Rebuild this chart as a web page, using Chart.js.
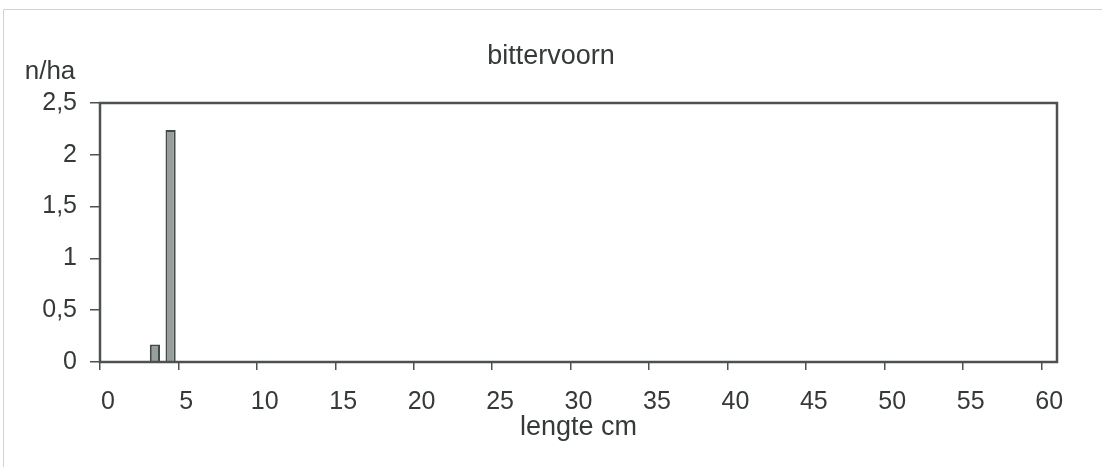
<!DOCTYPE html>
<html>
<head>
<meta charset="utf-8">
<title>bittervoorn</title>
<script src="https://cdn.jsdelivr.net/npm/chart.js@4/dist/chart.umd.min.js"></script>
<style>
  html, body { margin: 0; padding: 0; background: #fff; }
  canvas { display: block; }
</style>
</head>
<body>
<canvas id="grafiek" width="1102" height="467"></canvas>
<script>
// lengteklassen (cm) en aantallen per hectare
const lengtes = [0, 1, 2, 3, 4, 5, 6, 7, 8, 9, 10, 11, 12, 13, 14, 15, 16, 17, 18, 19, 20,
  21, 22, 23, 24, 25, 26, 27, 28, 29, 30, 31, 32, 33, 34, 35, 36, 37, 38, 39, 40,
  41, 42, 43, 44, 45, 46, 47, 48, 49, 50, 51, 52, 53, 54, 55, 56, 57, 58, 59, 60];
const aantalPerHa = [0, 0, 0, 0.17, 2.24, 0, 0, 0, 0, 0, 0, 0, 0, 0, 0, 0, 0, 0, 0, 0, 0,
  0, 0, 0, 0, 0, 0, 0, 0, 0, 0, 0, 0, 0, 0, 0, 0, 0, 0, 0, 0,
  0, 0, 0, 0, 0, 0, 0, 0, 0, 0, 0, 0, 0, 0, 0, 0, 0, 0, 0, 0];
const yTicks = [0, 0.5, 1, 1.5, 2, 2.5];

const tekst = '#353a39';
const lijn = '#4d5251';
const family = '"Liberation Sans", Arial, sans-serif';

// kader om plotgebied en grafiek, plus de eenheid linksboven
const kader = {
  id: 'kader',
  beforeDraw(chart) {
    const c = chart.ctx;
    c.save();
    c.strokeStyle = '#cfd2d1';
    c.lineWidth = 1;
    c.beginPath();
    c.moveTo(3.5, 467);
    c.lineTo(3.5, 9.5);
    c.lineTo(1102, 9.5);
    c.stroke();
    c.restore();
  },
  afterDraw(chart) {
    const { ctx: c, chartArea: a } = chart;
    c.save();
    c.strokeStyle = lijn;
    c.lineWidth = 2.5;
    c.strokeRect(a.left, a.top, a.right - a.left, a.bottom - a.top);
    c.fillStyle = tekst;
    c.font = '26px ' + family;
    c.textAlign = 'center';
    c.textBaseline = 'alphabetic';
    c.fillText('n/ha', 50, 79);
    c.restore();
  }
};

new Chart(document.getElementById('grafiek').getContext('2d'), {
  type: 'bar',
  data: {
    labels: lengtes,
    datasets: [{
      data: aantalPerHa,
      backgroundColor: '#979e9b',
      borderColor: '#434947',
      borderWidth: 2,
      barPercentage: 0.65,
      categoryPercentage: 1
    }]
  },
  options: {
    responsive: false,
    animation: false,
    layout: { padding: 0 },
    plugins: {
      legend: { display: false },
      tooltip: { enabled: false },
      title: {
        display: true,
        text: 'bittervoorn',
        color: tekst,
        font: { family: family, size: 27, weight: 'normal' },
        padding: { top: 40, bottom: 30.6 }
      }
    },
    scales: {
      x: {
        offset: true,
        grid: {
          offset: true,
          drawOnChartArea: false,
          tickLength: 8,
          lineWidth: 1.5,
          color: ctx => (ctx.index % 5 === 0 && ctx.index <= 60) ? lijn : 'rgba(0,0,0,0)'
        },
        border: { display: true, color: lijn, width: 2 },
        ticks: {
          autoSkip: false,
          maxRotation: 0,
          padding: 17,
          color: tekst,
          font: { family: family, size: 25 },
          callback: (v, i) => i % 5 === 0 ? String(lengtes[i]) : ''
        },
        title: {
          display: true,
          text: 'lengte cm',
          color: tekst,
          font: { family: family, size: 27 },
          padding: { top: 0, bottom: 23 }
        },
        afterFit: s => { s.height = 105; }
      },
      y: {
        min: 0,
        max: 2.5,
        afterBuildTicks: s => { s.ticks = yTicks.map(v => ({ value: v })); },
        grid: { drawOnChartArea: false, tickLength: 10, lineWidth: 1.5, color: lijn },
        border: { display: true, color: lijn, width: 2 },
        ticks: {
          padding: 13,
          color: tekst,
          font: { family: family, size: 25 },
          callback: v => String(v).replace('.', ',')
        },
        afterFit: s => { s.width = 100; }
      },
      // lege strook rechts van het plotgebied
      rechts: {
        position: 'right',
        grid: { display: false },
        border: { display: false },
        ticks: { display: false },
        afterFit: s => { s.width = 45; }
      }
    }
  },
  plugins: [kader]
});
</script>
</body>
</html>
